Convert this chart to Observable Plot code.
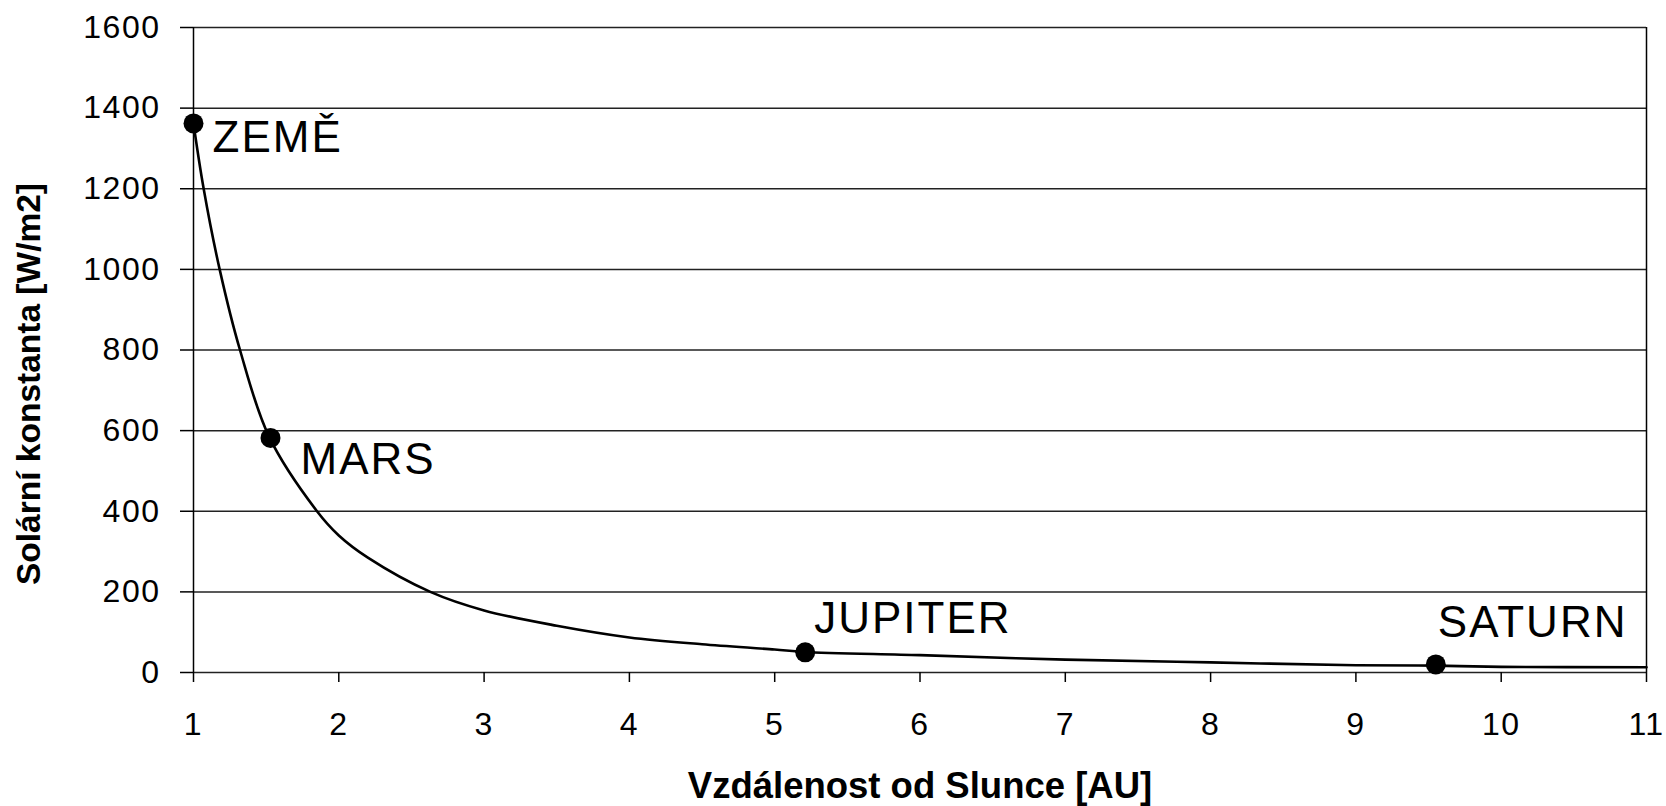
<!DOCTYPE html>
<html>
<head>
<meta charset="utf-8">
<script src="https://cdn.jsdelivr.net/npm/d3@7"></script>
<script src="https://cdn.jsdelivr.net/npm/@observablehq/plot@0.6"></script>
<style>
  html, body { margin: 0; padding: 0; background: #fff; }
</style>
</head>
<body>
<div id="chart"></div>
<script>
// Curve
const curveX = [1, 1.07, 1.18, 1.32, 1.52, 1.85, 2, 2.2, 2.63, 3, 3.5, 4, 4.5, 5, 5.2, 6, 7, 8, 9, 9.54, 10, 11];
const curveY = [1362, 1200, 1000, 800, 585, 400, 340, 285, 200, 154, 116, 87, 70, 57, 51, 43, 32, 25, 18, 17, 14, 13];

// Planets
const planetNames = ["ZEMĚ", "MARS", "JUPITER", "SATURN"];
const planetX = [1, 1.53, 5.21, 9.55];
const planetY = [1362, 582, 50, 20];

// Ticks
const xTicks = [1, 2, 3, 4, 5, 6, 7, 8, 9, 10, 11];
const yTicks = [0, 200, 400, 600, 800, 1000, 1200, 1400, 1600];

const xTitle = "Vzdálenost od Slunce [AU]";
const yTitle = "Solární konstanta [W/m2]";

const curve = curveX.map((x, i) => ({x, y: curveY[i]}));
const planets = planetNames.map((name, i) => ({name, x: planetX[i], y: planetY[i]}));

const labelOffsets = [[19, 14], [30, 22], [9, -33], [2, -42]];

const chart = Plot.plot({
  width: 1666,
  height: 806,
  marginLeft: 193,
  marginRight: 20,
  marginTop: 27,
  marginBottom: 134,
  style: {fontFamily: "'Liberation Sans', Arial, sans-serif", background: "#fff", color: "#000"},
  x: {domain: [1, 11]},
  y: {domain: [0, 1600]},
  marks: [
    Plot.gridY(yTicks, {stroke: "#222", strokeOpacity: 1, strokeWidth: 1.5}),
    Plot.ruleX([1, 11], {y1: 0, y2: 1600, stroke: "#000", strokeWidth: 1.5}),
    Plot.axisY(yTicks, {tickSize: 13, tickPadding: 20, fontSize: 32, label: null, tickFormat: d => String(d), strokeWidth: 1.5}),
    Plot.axisX(xTicks, {tickSize: 10, tickPadding: 30, fontSize: 32, label: null, tickFormat: d => String(d), strokeWidth: 1.5}),
    Plot.line(curve, {x: "x", y: "y", curve: "catmull-rom", stroke: "#000", strokeWidth: 2.6}),
    Plot.dot(planets, {x: "x", y: "y", r: 10, fill: "#000"}),
    ...planets.map((p, i) => Plot.text([p], {
      x: "x", y: "y", text: "name",
      dx: labelOffsets[i][0], dy: labelOffsets[i][1],
      textAnchor: "start", lineAnchor: "middle", fontSize: 44, fill: "#000"
    })),
    Plot.text([xTitle], {frameAnchor: "bottom", dy: 114, lineAnchor: "middle", fontSize: 36.5, fontWeight: "bold", fill: "#000"}),
    Plot.text([yTitle], {frameAnchor: "left", textAnchor: "middle", lineAnchor: "middle", rotate: -90, dx: -164, dy: 34, fontSize: 33.5, fontWeight: "bold", fill: "#000"})
  ]
});

document.getElementById("chart").appendChild(chart);

d3.select(chart).selectAll("text")
  .filter(function() { return planetNames.includes(this.textContent); })
  .attr("letter-spacing", "2");
d3.select(chart).selectAll("text")
  .filter(function() { return /^\d+$/.test(this.textContent); })
  .attr("letter-spacing", "1.5");
</script>
</body>
</html>
